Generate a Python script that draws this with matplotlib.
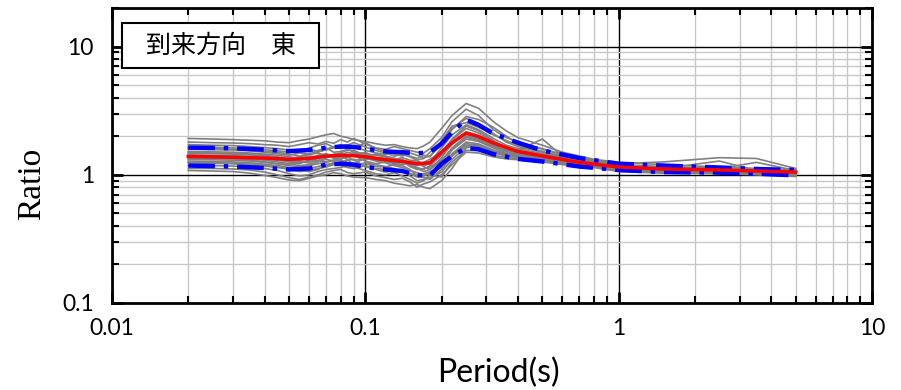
import matplotlib
matplotlib.use('Agg')
import matplotlib.pyplot as plt
from matplotlib.patches import Rectangle
from matplotlib.ticker import LogLocator, NullFormatter

# periods (s) of the individual records
periods = [0.02, 0.025, 0.03, 0.035, 0.04, 0.045, 0.05, 0.055, 0.06, 0.065, 0.07, 0.075, 0.08,
           0.085, 0.09, 0.1, 0.11, 0.12, 0.13, 0.14, 0.15, 0.16, 0.17, 0.18, 0.2, 0.22, 0.25,
           0.28, 0.32, 0.36, 0.4, 0.5, 0.6, 0.8, 1.0, 1.5, 2.5, 3.5, 5.0]

# individual records (gray)
records = [
    [1.92, 1.90, 1.88, 1.86, 1.84, 1.80, 1.78, 1.85, 1.90, 1.98, 2.05, 2.10, 2.00, 1.95, 1.88, 1.82, 1.75, 1.70, 1.72, 1.66, 1.62, 1.60, 1.68, 1.80, 2.30, 2.90, 3.60, 3.30, 2.60, 2.20, 1.95, 1.70, 1.50, 1.32, 1.25, 1.20, 1.15, 1.12, 1.10],
    [1.80, 1.78, 1.77, 1.75, 1.72, 1.70, 1.66, 1.72, 1.78, 1.74, 1.82, 1.76, 1.88, 1.80, 1.92, 1.74, 1.62, 1.58, 1.66, 1.60, 1.55, 1.50, 1.48, 1.60, 1.95, 2.60, 3.25, 2.90, 2.25, 1.95, 1.82, 1.58, 1.45, 1.30, 1.22, 1.26, 1.36, 1.34, 1.12],
    [1.72, 1.70, 1.69, 1.66, 1.63, 1.60, 1.56, 1.50, 1.62, 1.70, 1.75, 1.64, 1.68, 1.72, 1.60, 1.78, 1.60, 1.52, 1.45, 1.40, 1.48, 1.42, 1.36, 1.40, 1.72, 2.25, 2.85, 2.70, 2.35, 2.00, 1.75, 1.60, 1.42, 1.28, 1.20, 1.16, 1.12, 1.25, 1.08],
    [1.65, 1.64, 1.62, 1.60, 1.57, 1.54, 1.50, 1.55, 1.58, 1.52, 1.56, 1.62, 1.72, 1.60, 1.64, 1.55, 1.48, 1.44, 1.52, 1.50, 1.40, 1.34, 1.42, 1.38, 1.85, 2.40, 2.55, 2.35, 2.05, 1.85, 1.70, 1.52, 1.40, 1.26, 1.18, 1.14, 1.12, 1.10, 1.07],
    [1.58, 1.57, 1.56, 1.54, 1.50, 1.46, 1.42, 1.48, 1.45, 1.55, 1.62, 1.50, 1.52, 1.58, 1.50, 1.46, 1.42, 1.38, 1.32, 1.36, 1.30, 1.28, 1.22, 1.26, 1.62, 2.05, 2.45, 2.25, 1.92, 1.70, 1.60, 1.46, 1.36, 1.24, 1.16, 1.12, 1.10, 1.08, 1.06],
    [1.52, 1.51, 1.50, 1.48, 1.45, 1.42, 1.38, 1.34, 1.40, 1.38, 1.36, 1.44, 1.48, 1.56, 1.55, 1.42, 1.36, 1.34, 1.28, 1.24, 1.22, 1.18, 1.25, 1.32, 1.52, 1.88, 2.30, 2.12, 1.82, 1.62, 1.55, 1.90, 1.40, 1.24, 1.15, 1.12, 1.28, 1.08, 1.05],
    [1.47, 1.46, 1.45, 1.43, 1.40, 1.36, 1.32, 1.30, 1.34, 1.42, 1.46, 1.40, 1.38, 1.36, 1.42, 1.50, 1.35, 1.30, 1.26, 1.32, 1.20, 1.14, 1.10, 1.18, 1.42, 1.72, 2.15, 2.02, 1.76, 1.58, 1.52, 1.42, 1.33, 1.22, 1.14, 1.10, 1.08, 1.06, 1.04],
    [1.43, 1.42, 1.41, 1.39, 1.36, 1.32, 1.28, 1.26, 1.24, 1.30, 1.35, 1.44, 1.46, 1.38, 1.30, 1.32, 1.36, 1.34, 1.24, 1.20, 1.26, 1.24, 1.16, 1.10, 1.36, 1.76, 2.05, 1.92, 1.70, 1.55, 1.50, 1.40, 1.31, 1.21, 1.13, 1.10, 1.08, 1.06, 1.04],
    [1.40, 1.39, 1.38, 1.36, 1.33, 1.30, 1.26, 1.22, 1.30, 1.28, 1.26, 1.30, 1.36, 1.44, 1.42, 1.28, 1.22, 1.26, 1.30, 1.28, 1.16, 1.10, 1.12, 1.15, 1.30, 1.60, 1.96, 1.86, 1.66, 1.52, 1.48, 1.38, 1.30, 1.20, 1.12, 1.09, 1.07, 1.05, 1.03],
    [1.36, 1.35, 1.34, 1.32, 1.30, 1.26, 1.22, 1.18, 1.20, 1.26, 1.32, 1.28, 1.30, 1.25, 1.22, 1.35, 1.28, 1.24, 1.18, 1.14, 1.08, 1.04, 1.00, 1.02, 1.20, 1.56, 1.90, 1.82, 1.62, 1.48, 1.45, 1.36, 1.28, 1.19, 1.11, 1.08, 1.06, 1.05, 1.02],
    [1.32, 1.31, 1.30, 1.28, 1.25, 1.22, 1.18, 1.15, 1.18, 1.22, 1.25, 1.30, 1.38, 1.32, 1.20, 1.22, 1.16, 1.15, 1.20, 1.18, 1.10, 0.98, 1.02, 1.06, 1.16, 1.46, 1.80, 1.74, 1.56, 1.46, 1.42, 1.34, 1.26, 1.18, 1.10, 1.07, 1.05, 1.04, 1.01],
    [1.28, 1.27, 1.26, 1.24, 1.21, 1.18, 1.14, 1.10, 1.12, 1.16, 1.20, 1.24, 1.25, 1.30, 1.32, 1.15, 1.12, 1.10, 1.06, 1.05, 1.02, 1.00, 0.95, 0.92, 1.10, 1.40, 1.70, 1.66, 1.52, 1.44, 1.40, 1.32, 1.25, 1.17, 1.09, 1.06, 1.05, 1.03, 1.00],
    [1.24, 1.23, 1.22, 1.20, 1.17, 1.14, 1.10, 1.06, 1.08, 1.12, 1.15, 1.20, 1.18, 1.14, 1.12, 1.18, 1.10, 1.05, 1.08, 1.10, 0.98, 0.90, 0.92, 0.95, 1.05, 1.32, 1.65, 1.62, 1.48, 1.40, 1.37, 1.30, 1.24, 1.16, 1.08, 1.05, 1.04, 1.02, 0.99],
    [1.18, 1.18, 1.17, 1.15, 1.12, 1.08, 1.02, 0.98, 1.00, 1.06, 1.10, 1.12, 1.14, 1.18, 1.15, 1.08, 1.02, 1.00, 1.04, 0.98, 0.92, 0.86, 0.90, 1.00, 0.96, 1.26, 1.55, 1.55, 1.42, 1.36, 1.34, 1.28, 1.22, 1.15, 1.07, 1.04, 1.03, 1.01, 0.98],
    [1.12, 1.12, 1.11, 1.09, 1.05, 1.00, 0.95, 0.92, 0.96, 1.00, 1.05, 1.08, 1.10, 1.04, 1.02, 1.05, 0.98, 0.95, 0.92, 0.94, 0.88, 0.80, 0.85, 0.88, 1.00, 1.20, 1.50, 1.48, 1.38, 1.33, 1.31, 1.26, 1.20, 1.14, 1.06, 1.03, 1.02, 1.00, 0.97],
    [1.08, 1.07, 1.06, 1.03, 0.99, 0.95, 0.91, 0.90, 0.94, 0.98, 1.00, 1.04, 1.02, 0.98, 0.96, 0.95, 0.92, 0.90, 0.86, 0.84, 0.82, 0.84, 0.80, 0.78, 0.90, 1.12, 1.62, 1.72, 1.52, 1.42, 1.38, 1.30, 1.23, 1.16, 1.08, 1.06, 1.04, 1.02, 1.00],
    [1.62, 1.60, 1.58, 1.55, 1.52, 1.50, 1.45, 1.40, 1.46, 1.50, 1.58, 1.66, 1.60, 1.70, 1.78, 1.65, 1.55, 1.48, 1.40, 1.44, 1.38, 1.30, 1.34, 1.50, 1.78, 2.30, 2.75, 2.50, 2.10, 1.80, 1.66, 1.50, 1.38, 1.25, 1.17, 1.13, 1.11, 1.09, 1.06],
    [1.50, 1.48, 1.47, 1.45, 1.42, 1.38, 1.34, 1.38, 1.44, 1.48, 1.40, 1.35, 1.42, 1.50, 1.46, 1.40, 1.45, 1.40, 1.35, 1.30, 1.26, 1.20, 1.18, 1.22, 1.45, 1.90, 2.40, 2.20, 1.85, 1.62, 1.55, 1.44, 1.34, 1.22, 1.14, 1.11, 1.09, 1.08, 1.05],
    [1.35, 1.34, 1.33, 1.30, 1.26, 1.22, 1.20, 1.25, 1.28, 1.34, 1.40, 1.36, 1.32, 1.40, 1.48, 1.38, 1.30, 1.28, 1.22, 1.26, 1.18, 1.12, 1.06, 1.10, 1.28, 1.62, 2.00, 1.88, 1.68, 1.53, 1.47, 1.37, 1.29, 1.19, 1.12, 1.09, 1.07, 1.05, 1.03],
    [1.25, 1.24, 1.23, 1.21, 1.18, 1.15, 1.12, 1.08, 1.06, 1.10, 1.18, 1.22, 1.26, 1.20, 1.18, 1.24, 1.20, 1.16, 1.12, 1.06, 1.02, 0.96, 0.98, 1.02, 1.14, 1.42, 1.75, 1.70, 1.54, 1.45, 1.41, 1.33, 1.26, 1.17, 1.10, 1.07, 1.05, 1.03, 1.00],
]

# average (red) and average +/- sigma (blue)
avg_periods = [0.02, 0.025, 0.03, 0.04, 0.05, 0.06, 0.07, 0.08, 0.09, 0.1, 0.12, 0.14, 0.16, 0.18,
               0.2, 0.22, 0.25, 0.28, 0.32, 0.4, 0.5, 0.7, 1.0, 1.5, 2.5, 3.5, 5.0]
mean = [1.39, 1.38, 1.37, 1.35, 1.32, 1.34, 1.40, 1.42, 1.41, 1.38, 1.31, 1.27, 1.22, 1.24,
        1.50, 1.78, 2.12, 1.99, 1.77, 1.52, 1.40, 1.25, 1.15, 1.11, 1.09, 1.07, 1.05]
upper = [1.63, 1.62, 1.61, 1.57, 1.53, 1.56, 1.63, 1.66, 1.65, 1.60, 1.52, 1.50, 1.47, 1.50,
         1.75, 2.15, 2.70, 2.45, 2.10, 1.78, 1.55, 1.35, 1.22, 1.18, 1.14, 1.11, 1.09]
lower = [1.18, 1.17, 1.16, 1.13, 1.10, 1.12, 1.20, 1.22, 1.20, 1.15, 1.10, 1.07, 0.99, 0.99,
         1.22, 1.40, 1.62, 1.58, 1.45, 1.33, 1.27, 1.16, 1.09, 1.05, 1.04, 1.02, 0.99]

x_ticks = [0.01, 0.1, 1, 10]
x_labels = ['0.01', '0.1', '1', '10']
y_ticks = [0.1, 1, 10]
y_labels = ['0.1', '1', '10']

fig = plt.figure(figsize=(9.01, 3.9), dpi=100)
ax = fig.add_axes([0.1243, 0.2231, 0.8435, 0.7564])

for rec in records:
    ax.plot(periods, rec, color='#808080', lw=1.2, zorder=3)
ax.plot(avg_periods, upper, color='#0000ff', lw=3.2, ls=(0, (6, 2, 1, 2)), zorder=4)
ax.plot(avg_periods, lower, color='#0000ff', lw=3.2, ls=(0, (6, 2, 1, 2)), zorder=4)
ax.plot(avg_periods, mean, color='#ff0000', lw=2.5, zorder=5)

ax.set_xscale('log')
ax.set_yscale('log')
ax.set_xlim(0.01, 10)
ax.set_ylim(0.1, 20)

ax.set_xticks(x_ticks)
ax.set_xticklabels(x_labels)
ax.set_yticks(y_ticks)
ax.set_yticklabels(y_labels)
for axis in (ax.xaxis, ax.yaxis):
    axis.set_minor_locator(LogLocator(base=10, subs=range(2, 10), numticks=20))
    axis.set_minor_formatter(NullFormatter())

ax.grid(which='minor', color='#c8c8c8', lw=1, zorder=1)
ax.grid(which='major', color='black', lw=1, zorder=2)
ax.set_axisbelow(True)

ax.tick_params(which='both', direction='in', top=True, right=True, width=1.5)
ax.tick_params(which='major', length=8, width=2, labelsize=16.5)
ax.tick_params(axis='x', which='major', pad=11)
ax.tick_params(axis='y', which='major', pad=13)
ax.tick_params(which='minor', length=5)
for lab in ax.get_xticklabels() + ax.get_yticklabels():
    lab.set_family('Lato')
for s in ax.spines.values():
    s.set_linewidth(2)

ax.set_xlabel('Period(s)', family='Lato', fontsize=23)
ax.xaxis.set_label_coords(0.509, -0.186)
ax.set_ylabel('Ratio', family='Liberation Serif', fontsize=24, va='center')
ax.yaxis.set_label_coords(-0.106, 0.403)

# title box
ax.add_patch(Rectangle((0.013, 0.797), 0.259, 0.1525, transform=ax.transAxes,
                       facecolor='white', edgecolor='black', lw=1.5, zorder=10))
ax.text(0.1428, 0.873, '到来方向　東', transform=ax.transAxes, fontsize=18,
        family=['Noto Sans CJK JP', 'DejaVu Sans'], va='center', ha='center', zorder=11)

fig.savefig('out.png', dpi=100)
